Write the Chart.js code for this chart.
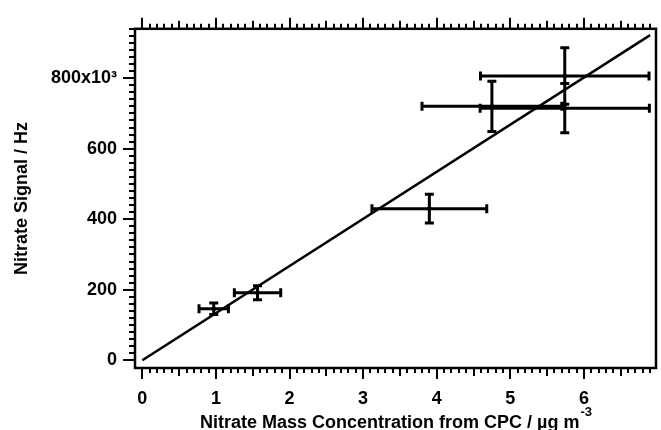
<!doctype html>
<html lang="en">

<head>
  <title>Nitrate Signal</title>
  <meta charset="utf-8">
  <style>
    body { margin: 0; background: #fff; }
  </style>
</head>

<body>
  <canvas id="migrafico" width="661" height="430"></canvas>

  <!-- ChartJS -->
  <script src="https://cdn.jsdelivr.net/npm/chart.js"></script>

  <script>
    // Datos
    const concX   = [0.97, 1.565, 3.90, 4.75, 5.74, 5.74];
    const senalY  = [146, 191.5, 430, 720, 715, 806];
    const errX    = [0.20, 0.315, 0.78, 0.95, 1.15, 1.145];
    const errY    = [16.5, 20, 41, 71, 70, 80];
    const ajusteX = [0, 6.9];
    const ajusteY = [0, 922];
    const ticksX  = [0, 1, 2, 3, 4, 5, 6];
    const ticksY  = [0, 200, 400, 600, 800];
    const tituloX = 'Nitrate Mass Concentration from CPC / µg m';
    const supX    = '-3';

    const familia = '"Liberation Sans", Arial, sans-serif';
    const fuente = { family: familia, size: 18, weight: 'bold' };

    // Marco y marcas menores de los ejes
    const marco = {
      id: 'marco',
      afterDraw(chart) {
        const { ctx, chartArea: a, scales: { x, y } } = chart;
        ctx.save();
        ctx.strokeStyle = '#000';
        ctx.lineWidth = 2.5;
        ctx.strokeRect(a.left, a.top, a.width, a.height);
        ctx.lineWidth = 2;
        ctx.beginPath();
        for (let i = 0; i <= 69; i++) {
          const px = Math.round(x.getPixelForValue(i / 10));
          const largo = i % 10 === 0 ? 11 : (i % 5 === 0 ? 8 : 5);
          ctx.moveTo(px, a.bottom); ctx.lineTo(px, a.bottom + largo);
          ctx.moveTo(px, a.top); ctx.lineTo(px, a.top - largo);
        }
        for (let v = 0; v <= 940; v += 20) {
          const py = Math.round(y.getPixelForValue(v));
          const largo = v % 200 === 0 ? 12 : 6;
          ctx.moveTo(a.left, py); ctx.lineTo(a.left - largo, py);
        }
        ctx.stroke();

        // titulo del eje x con exponente
        ctx.fillStyle = '#000';
        ctx.textBaseline = 'alphabetic';
        ctx.font = 'bold 18px ' + familia;
        const w1 = ctx.measureText(tituloX).width;
        ctx.font = 'bold 13px ' + familia;
        const w2 = ctx.measureText(supX).width;
        const x0 = (a.left + a.right) / 2 - (w1 + w2) / 2;
        ctx.font = 'bold 18px ' + familia;
        ctx.fillText(tituloX, x0, 428);
        ctx.font = 'bold 13px ' + familia;
        ctx.fillText(supX, x0 + w1 + 1, 416);
        ctx.restore();
      }
    };

    // Barras de error en x e y
    const barrasError = {
      id: 'barrasError',
      afterDatasetsDraw(chart) {
        const { ctx, scales: { x, y } } = chart;
        ctx.save();
        ctx.strokeStyle = '#000';
        ctx.lineWidth = 3;
        ctx.beginPath();
        concX.forEach((cx, i) => {
          const px = x.getPixelForValue(cx);
          const py = y.getPixelForValue(senalY[i]);
          const x1 = x.getPixelForValue(cx - errX[i]);
          const x2 = x.getPixelForValue(cx + errX[i]);
          const y1 = y.getPixelForValue(senalY[i] + errY[i]);
          const y2 = y.getPixelForValue(senalY[i] - errY[i]);
          const c = 4.5;
          ctx.moveTo(x1, py); ctx.lineTo(x2, py);
          ctx.moveTo(x1, py - c); ctx.lineTo(x1, py + c);
          ctx.moveTo(x2, py - c); ctx.lineTo(x2, py + c);
          ctx.moveTo(px, y1); ctx.lineTo(px, y2);
          ctx.moveTo(px - c, y1); ctx.lineTo(px + c, y1);
          ctx.moveTo(px - c, y2); ctx.lineTo(px + c, y2);
        });
        ctx.stroke();
        ctx.restore();
      }
    };

    document.addEventListener("DOMContentLoaded", () => {
      const lienzo = document.getElementById("migrafico");

      const grafico = new Chart(lienzo, {
        type: 'scatter',
        data: {
          datasets: [
            {
              label: 'Ajuste',
              data: ajusteX.map((v, i) => ({ x: v, y: ajusteY[i] })),
              showLine: true,
              borderColor: '#000',
              borderWidth: 2.5,
              pointRadius: 0
            },
            {
              label: 'Nitrato',
              data: concX.map((v, i) => ({ x: v, y: senalY[i] })),
              pointRadius: 2,
              backgroundColor: '#000',
              borderColor: '#000'
            }
          ]
        },
        options: {
          responsive: false,
          animation: false,
          layout: { padding: { left: 0, right: 2, top: 27, bottom: 0 } },
          plugins: {
            legend: { display: false },
            tooltip: { enabled: false }
          },
          scales: {
            x: {
              type: 'linear',
              min: -0.1,
              max: 6.98,
              afterBuildTicks: s => { s.ticks = ticksX.map(v => ({ value: v })); },
              afterFit: s => { s.height = 62; },
              grid: { display: false, drawTicks: false },
              border: { display: false },
              ticks: { font: fuente, color: '#000', padding: 20, autoSkip: false, maxRotation: 0 },
              title: { display: false }
            },
            y: {
              type: 'linear',
              min: -22,
              max: 940,
              afterBuildTicks: s => { s.ticks = ticksY.map(v => ({ value: v })); },
              afterFit: s => { s.width = 135; },
              grid: { display: false, drawTicks: false },
              border: { display: false },
              ticks: {
                font: fuente,
                color: '#000',
                padding: 18,
                autoSkip: false,
                callback: v => v === 800 ? '800x10³' : String(v)
              },
              title: {
                display: true,
                text: 'Nitrate Signal / Hz',
                font: fuente,
                color: '#000',
                padding: { top: 11, bottom: 0 }
              }
            }
          }
        },
        plugins: [marco, barrasError]
      });
    });
  </script>
</body>

</html>
